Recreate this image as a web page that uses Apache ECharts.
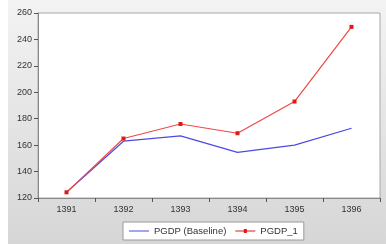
<!DOCTYPE html>
<html><head><meta charset="utf-8">
<script src="https://cdn.jsdelivr.net/npm/echarts@6/dist/echarts.min.js"></script>
<style>html,body{margin:0;padding:0;background:#fff;}#c{width:386px;height:244px;}</style>
</head><body><div id="c"></div>
<script>
const categories = ['1391','1392','1393','1394','1395','1396'];
const baseline = [124.3, 163, 167, 154.5, 160, 172.8];
const pgdp1 = [124.3, 165, 176, 169, 193, 249.5];
const yTicks = [120,140,160,180,200,220,240,260];

const chart = echarts.init(document.getElementById('c'), null, {renderer:'canvas'});
chart.setOption({
  animation:false,
  graphic:[{type:'rect', z:-10, shape:{x:8,y:0,width:378,height:244},
    style:{fill:new echarts.graphic.LinearGradient(0,0,0,1,[{offset:0,color:'#f3f3f3'},{offset:1,color:'#d6d6d6'}])}}],
  grid:{left:38,right:6,top:13,bottom:46,show:true,backgroundColor:'#ffffff',borderColor:'#a8a8a8',borderWidth:1},
  legend:{bottom:4,left:123,itemGap:9,itemWidth:20,itemHeight:5,
    backgroundColor:'#ffffff',borderColor:'#9a9a9a',borderWidth:1,borderRadius:0,padding:[4,6],
    textStyle:{fontFamily:'Liberation Sans, Arial',fontSize:9.5,color:'#333'},
    data:[{name:'PGDP (Baseline)',icon:'path://M0,2L20,2L20,3L0,3Z M0,0L0.01,0L0.01,0.01Z M0,5L0.01,5L0.01,4.99Z'},
          {name:'PGDP_1',icon:'path://M0,2L20,2L20,3L0,3Z M8.5,0.5L11.5,0.5L11.5,4.5L8.5,4.5Z M0,0L0.01,0L0.01,0.01Z M0,5L0.01,5L0.01,4.99Z'}]},
  xAxis:{type:'category',data:categories,boundaryGap:true,
    axisLine:{lineStyle:{color:'#888'}},
    axisTick:{show:true,inside:false,length:4,lineStyle:{color:'#555'}},
    axisLabel:{fontFamily:'Liberation Sans, Arial',fontSize:9,color:'#333',margin:7},
    splitLine:{show:false}},
  yAxis:{type:'value',min:120,max:260,interval:20,
    axisLine:{show:true,lineStyle:{color:'#888'}},
    axisTick:{show:true,length:4,lineStyle:{color:'#555'}},
    axisLabel:{fontFamily:'Liberation Sans, Arial',fontSize:9,color:'#333',margin:6,
      formatter:v=>yTicks.includes(v)?String(v):''},
    splitLine:{show:false}},
  series:[
    {name:'PGDP (Baseline)',type:'line',data:baseline,symbol:'none',
      lineStyle:{color:'#4a4ae6',width:1.2},itemStyle:{color:'#4a4ae6'},z:2},
    {name:'PGDP_1',type:'line',data:pgdp1,symbol:'rect',symbolSize:4,
      lineStyle:{color:'#f04848',width:1.2},itemStyle:{color:'#e01818'},z:3}
  ]
});
</script></body></html>
